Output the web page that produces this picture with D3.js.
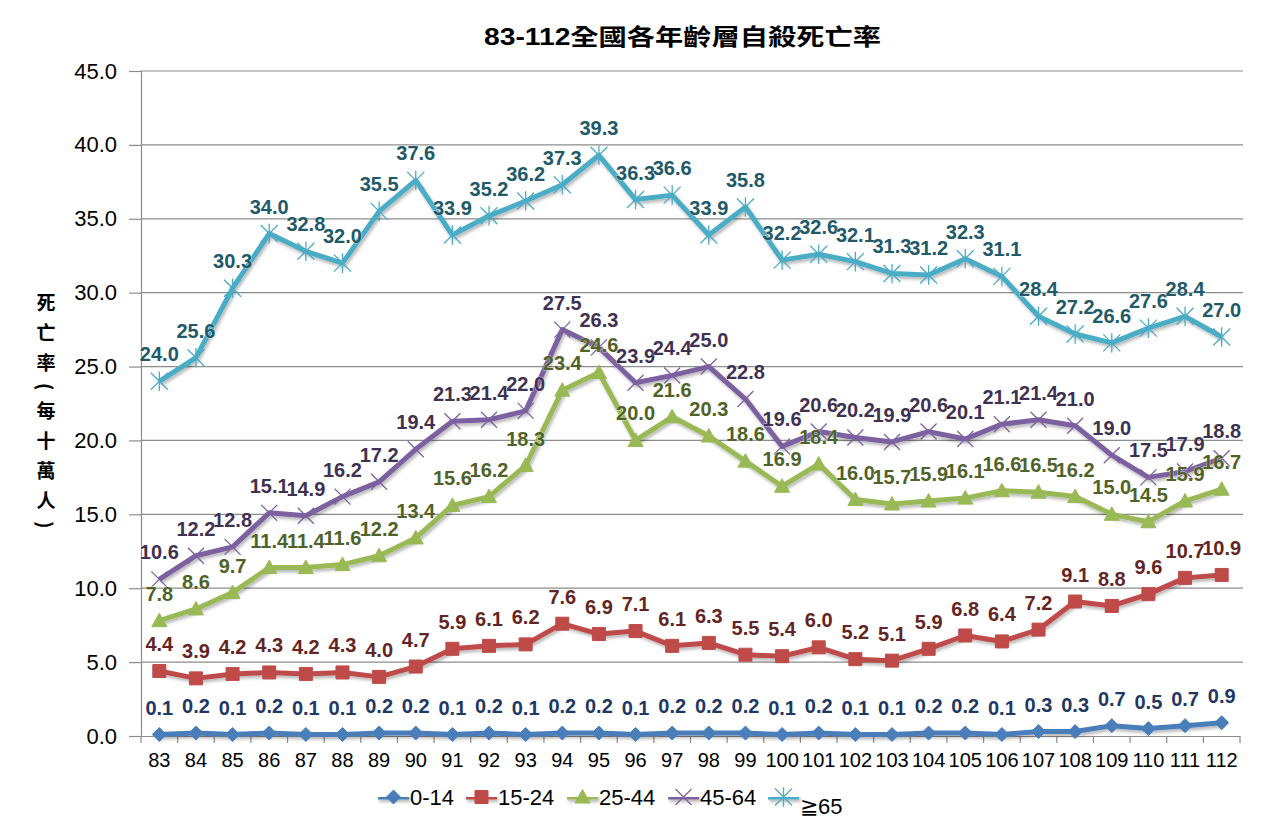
<!DOCTYPE html>
<html><head><meta charset="utf-8">
<script src="https://cdn.jsdelivr.net/npm/d3@7"></script>
<style>
body{margin:0;background:#fff;}
svg{display:block;font-family:"Liberation Sans",Arial,sans-serif;}
</style></head>
<body><svg id="c" width="1280" height="827"></svg>
<script>
const years = ["83","84","85","86","87","88","89","90","91","92","93","94","95","96","97","98","99","100","101","102","103","104","105","106","107","108","109","110","111","112"];
const seriesNames = ["0-14","15-24","25-44","45-64","≧65"];
const s0_14 = [0.1,0.2,0.1,0.2,0.1,0.1,0.2,0.2,0.1,0.2,0.1,0.2,0.2,0.1,0.2,0.2,0.2,0.1,0.2,0.1,0.1,0.2,0.2,0.1,0.3,0.3,0.7,0.5,0.7,0.9];
const s15_24 = [4.4,3.9,4.2,4.3,4.2,4.3,4.0,4.7,5.9,6.1,6.2,7.6,6.9,7.1,6.1,6.3,5.5,5.4,6.0,5.2,5.1,5.9,6.8,6.4,7.2,9.1,8.8,9.6,10.7,10.9];
const s25_44 = [7.8,8.6,9.7,11.4,11.4,11.6,12.2,13.4,15.6,16.2,18.3,23.4,24.6,20.0,21.6,20.3,18.6,16.9,18.4,16.0,15.7,15.9,16.1,16.6,16.5,16.2,15.0,14.5,15.9,16.7];
const s45_64 = [10.6,12.2,12.8,15.1,14.9,16.2,17.2,19.4,21.3,21.4,22.0,27.5,26.3,23.9,24.4,25.0,22.8,19.6,20.6,20.2,19.9,20.6,20.1,21.1,21.4,21.0,19.0,17.5,17.9,18.8];
const s65 = [24.0,25.6,30.3,34.0,32.8,32.0,35.5,37.6,33.9,35.2,36.2,37.3,39.3,36.3,36.6,33.9,35.8,32.2,32.6,32.1,31.3,31.2,32.3,31.1,28.4,27.2,26.6,27.6,28.4,27.0];
const yTicks = [0,5,10,15,20,25,30,35,40,45];
const title = "83-112全國各年齡層自殺死亡率";
const yLabel = "死亡率(每十萬人)";

const seriesValues = [s0_14,s15_24,s25_44,s45_64,s65];
const lineColors = ["#4A7EBB","#BE4B48","#98B954","#7D60A0","#4BACC6"];
const labelColors = ["#1F3864","#632523","#4F6228","#3F3151","#215968"];
const markers = ["diamond","square","triangle","x","star"];

const svg = d3.select("#c");
const defs = svg.append("defs");
const f = defs.append("filter").attr("id","sh").attr("filterUnits","userSpaceOnUse")
  .attr("x",0).attr("y",0).attr("width",1280).attr("height",827);
f.append("feDropShadow").attr("dx",1.5).attr("dy",2.5).attr("stdDeviation",1.6).attr("flood-color","#000").attr("flood-opacity",0.28);

const L=141, R=1240, T=71, B=736;
const x = d3.scaleBand().domain(years).range([L,R]);
const y = d3.scaleLinear().domain([0,45]).range([B,T]);
const cx = d => x(d)+x.bandwidth()/2;

// title
svg.append("text").attr("x",484).attr("y",45)
  .attr("font-size",23).attr("font-weight","bold").attr("fill","#000")
  .attr("font-family","'Liberation Sans','Noto Sans CJK TC',sans-serif")
  .attr("textLength",397).attr("lengthAdjust","spacingAndGlyphs")
  .text(title);

// gridlines
svg.append("g").selectAll("line").data(yTicks.filter(t=>t>0)).join("line")
  .attr("x1",L).attr("x2",R+3).attr("y1",d=>y(d)).attr("y2",d=>y(d))
  .attr("stroke","#8c8c8c").attr("stroke-width",1.2);

// y axis
const ya = svg.append("g").attr("transform",`translate(${L},0)`)
  .call(d3.axisLeft(y).tickValues(yTicks).tickFormat(d3.format(".1f")).tickSize(12).tickPadding(12));
ya.select(".domain").attr("stroke","#8c8c8c").attr("stroke-width",1.2);
ya.selectAll(".tick line").attr("stroke","#8c8c8c").attr("stroke-width",1.2);
ya.selectAll(".tick text").attr("font-size",22).attr("fill","#000").attr("font-family","'Liberation Sans',Arial,sans-serif");

// x axis
const xa = svg.append("g").attr("transform",`translate(0,${B})`)
  .call(d3.axisBottom(x).tickSize(0).tickPadding(17));
xa.select(".domain").attr("stroke","#8c8c8c").attr("stroke-width",1.2);
xa.selectAll(".tick text").attr("font-size",20).attr("fill","#000").attr("font-family","'Liberation Sans',Arial,sans-serif");
const bounds = years.map(d=>x(d)).concat([x(years[years.length-1])+x.bandwidth()]);
xa.append("g").selectAll("line").data(bounds).join("line")
  .attr("x1",d=>d).attr("x2",d=>d).attr("y1",0).attr("y2",7)
  .attr("stroke","#8c8c8c").attr("stroke-width",1.2);

// y label
svg.append("text").attr("x",46).attr("y",293)
  .attr("font-size",19).attr("font-weight","bold").attr("fill","#000")
  .attr("font-family","'Noto Sans CJK TC',sans-serif")
  .style("writing-mode","vertical-rl").style("letter-spacing","11px")
  .text(yLabel);

function markerPath(type, size){
  const s=size/2;
  switch(type){
    case "diamond": return `M0,${-s}L${s},0L0,${s}L${-s},0Z`;
    case "square": return `M${-s},${-s}H${s}V${s}H${-s}Z`;
    case "triangle": return `M0,${-s}L${s},${s*0.8}L${-s},${s*0.8}Z`;
    case "x": return `M${-s},${-s}L${s},${s}M${s},${-s}L${-s},${s}`;
    case "star": return `M${-s},${-s}L${s},${s}M${s},${-s}L${-s},${s}M0,${-s*1.15}V${s*1.15}`;
  }
}
const msize=[14,13,15,16,17];

const line = d3.line().x((d,i)=>cx(years[i])).y(d=>y(d));
seriesValues.forEach((vals,k)=>{
  const g = svg.append("g");
  g.append("path").datum(vals).attr("d",line).attr("fill","none")
    .attr("stroke",lineColors[k]).attr("stroke-width",5).attr("stroke-linejoin","round")
    .attr("filter","url(#sh)");
  const filled = (markers[k]!=="x" && markers[k]!=="star");
  g.selectAll("path.m").data(vals).join("path").attr("class","m")
    .attr("transform",(d,i)=>`translate(${cx(years[i])},${y(d)})`)
    .attr("d",markerPath(markers[k],msize[k]))
    .attr("fill",filled?lineColors[k]:"none")
    .attr("stroke",lineColors[k]).attr("stroke-width",filled?1:1.3);
});
// data labels
seriesValues.forEach((vals,k)=>{
  svg.append("g").selectAll("text").data(vals).join("text")
    .attr("x",(d,i)=>cx(years[i])).attr("y",d=>y(d)-20)
    .attr("text-anchor","middle").attr("font-size",20).attr("font-weight","bold")
    .attr("fill",labelColors[k])
    .style("paint-order","stroke").attr("stroke","rgba(255,255,255,0.6)").attr("stroke-width",1)
    .text(d=>d.toFixed(1));
});

// legend
const legX=[378,466,567,668,768];
seriesNames.forEach((n,k)=>{
  const g = svg.append("g").attr("transform",`translate(${legX[k]},797)`);
  g.append("line").attr("x1",0).attr("x2",31).attr("y1",0).attr("y2",0).attr("stroke",lineColors[k]).attr("stroke-width",5).attr("filter","url(#sh)");
  const filled = (markers[k]!=="x" && markers[k]!=="star");
  g.append("path").attr("transform","translate(15.5,0)").attr("d",markerPath(markers[k],msize[k]))
    .attr("fill",filled?lineColors[k]:"none").attr("stroke",lineColors[k]).attr("stroke-width",filled?1:1.3);
  g.append("text").attr("x",32).attr("y",k===4?17:8).attr("font-size",22).attr("fill","#000")
    .attr("font-family","'Liberation Sans',Arial,sans-serif").text(n);
});
</script></body></html>
